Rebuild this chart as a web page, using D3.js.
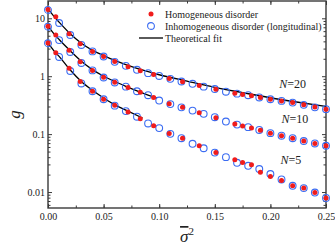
<!DOCTYPE html>
<html>
<head>
<meta charset="utf-8">
<script src="https://cdn.jsdelivr.net/npm/d3@7"></script>
<style>
  body { margin: 0; background: #fff; }
  svg text { font-family: "Liberation Serif", "Times New Roman", serif; }
</style>
</head>
<body>
<div id="chart"></div>
<script>
// sigma^2 positions of the two kinds of samples
const blueX = [0, 0.01, 0.02, 0.03, 0.04, 0.05, 0.06, 0.07, 0.08, 0.09, 0.10, 0.11, 0.12,
  0.13, 0.14, 0.15, 0.16, 0.17, 0.18, 0.19, 0.20, 0.21, 0.22, 0.23, 0.24, 0.25];
const redX = [0, 0.007, 0.019, 0.029, 0.04, 0.05, 0.06, 0.072, 0.083, 0.095, 0.109, 0.121,
  0.136, 0.151, 0.168, 0.175, 0.183, 0.191, 0.2, 0.21, 0.22, 0.23, 0.24, 0.25];

// inhomogeneous disorder (open blue circles)
const blueN20 = [13.9, 8.3, 5.15, 3.47, 2.68, 2.19, 1.77, 1.51, 1.29, 1.13, 1.01, 0.90, 0.81,
  0.74, 0.66, 0.60, 0.54, 0.50, 0.47, 0.43, 0.40, 0.375, 0.35, 0.32, 0.29, 0.27];
const blueN10 = [7.16, 4.2, 2.62, 1.69, 1.26, 0.95, 0.78, 0.66, 0.55, 0.47, 0.38, 0.33, 0.29,
  0.255, 0.224, 0.196, 0.165, 0.146, 0.132, 0.118, 0.104, 0.094, 0.085, 0.076, 0.069, 0.063];
const blueN5 = [3.7, 2.15, 1.23, 0.75, 0.55, 0.40, 0.31, 0.25, 0.20, 0.153, 0.127, 0.101, 0.085,
  0.068, 0.057, 0.048, 0.040, 0.032, 0.0284, 0.025, 0.0205, 0.0165, 0.0128, 0.0117, 0.0098, 0.0079];

// homogeneous disorder (red dots)
const redN20 = [14.2, 10.6, 5.4, 3.65, 2.66, 2.2, 1.8, 1.45, 1.24, 1.07, 0.91, 0.80, 0.69, 0.595,
  0.51, 0.485, 0.46, 0.43, 0.40, 0.375, 0.35, 0.32, 0.295, 0.27];
const redN10 = [7.3, 5.15, 2.8, 1.78, 1.25, 0.96, 0.79, 0.64, 0.53, 0.43, 0.335, 0.29, 0.235, 0.192,
  0.15, 0.138, 0.128, 0.117, 0.104, 0.094, 0.085, 0.076, 0.069, 0.063];
const redN5 = [3.75, 2.55, 1.37, 0.81, 0.55, 0.40, 0.315, 0.24, 0.185, 0.14, 0.103, 0.085, 0.063, 0.048,
  0.036, 0.0324, 0.0295, 0.022, 0.0186, 0.0158, 0.0128, 0.0117, 0.0098, 0.0079];

// theoretical fit curves
const fitX20 = [0, 0.005, 0.01, 0.02, 0.03, 0.04, 0.05, 0.06, 0.08, 0.10, 0.125, 0.15, 0.175, 0.20, 0.225, 0.25];
const fitN20 = [14.5, 11.0, 8.6, 5.4, 3.7, 2.8, 2.27, 1.87, 1.36, 1.06, 0.82, 0.64, 0.52, 0.425, 0.355, 0.30];
const fitX10 = [0, 0.005, 0.01, 0.02, 0.03, 0.04, 0.05, 0.06, 0.07, 0.08, 0.09, 0.098];
const fitN10 = [7.3, 5.5, 4.3, 2.75, 1.82, 1.3, 1.0, 0.81, 0.67, 0.56, 0.47, 0.42];
const fitX5 = [0, 0.005, 0.01, 0.02, 0.03, 0.04, 0.05, 0.06, 0.07, 0.085];
const fitN5 = [3.75, 2.8, 2.2, 1.28, 0.81, 0.57, 0.42, 0.32, 0.26, 0.19];

const xTicks = [0, 0.05, 0.10, 0.15, 0.20, 0.25];
const yTicks = [0.01, 0.1, 1, 10];
const curveLabels = [
  { n: "20", x: 0.208, g: 0.62 },
  { n: "10", x: 0.210, g: 0.156 },
  { n: "5", x: 0.209, g: 0.031 }
];
const legendItems = ["Homogeneous disorder", "Inhomogeneous disorder (longitudinal)", "Theoretical fit"];

const W = 335, H = 252;
const margin = { top: 1, right: 9, bottom: 44, left: 48 };
const width = W - margin.left - margin.right;
const height = H - margin.top - margin.bottom;

const red = "#f01c1c", blue = "#3b6cf2", axisColor = "#3a3a3a";
const serif = "'Liberation Serif', 'Times New Roman', serif";

const svg = d3.select("#chart").append("svg")
  .attr("width", W).attr("height", H)
  .attr("font-family", serif);
const g = svg.append("g")
  .attr("transform", "translate(" + margin.left + "," + margin.top + ")");

const xScale = d3.scaleLinear().domain([0, 0.25]).range([0, width]);
const yScale = d3.scaleLog().domain([0.0053, 19.9]).range([height, 0]);

// minor ticks
const xMinor = d3.range(0, 0.2501, 0.025);
const yMinor = [];
[0.001, 0.01, 0.1, 1, 10].forEach(d => {
  for (let k = 2; k <= 9; k++) {
    const v = d * k;
    if (v > 0.0053 && v < 19.9) yMinor.push(v);
  }
});

function styleAxis(sel) {
  sel.select(".domain").remove();
  sel.selectAll("line").attr("stroke", axisColor).attr("stroke-width", 1);
  sel.selectAll("text").attr("fill", "#222").attr("font-size", "10px")
    .attr("font-family", serif);
}

// bottom and top
g.append("g").attr("transform", "translate(0," + height + ")")
  .call(d3.axisBottom(xScale).tickValues(xTicks).tickSize(-4).tickPadding(5).tickFormat(d3.format(".2f")))
  .call(styleAxis);
g.append("g").attr("transform", "translate(0," + height + ")")
  .call(d3.axisBottom(xScale).tickValues(xMinor).tickSize(-2.5).tickFormat(""))
  .call(styleAxis);
g.append("g")
  .call(d3.axisTop(xScale).tickValues(xTicks).tickSize(-4).tickFormat(""))
  .call(styleAxis);
g.append("g")
  .call(d3.axisTop(xScale).tickValues(xMinor).tickSize(-2.5).tickFormat(""))
  .call(styleAxis);

// left and right
g.append("g")
  .call(d3.axisLeft(yScale).tickValues(yTicks).tickSize(-4).tickPadding(3).tickFormat(d => d >= 1 ? d3.format("d")(d) : String(d)))
  .call(styleAxis);
g.append("g")
  .call(d3.axisLeft(yScale).tickValues(yMinor).tickSize(-2.5).tickFormat(""))
  .call(styleAxis);
g.append("g").attr("transform", "translate(" + width + ",0)")
  .call(d3.axisRight(yScale).tickValues(yTicks).tickSize(-4).tickFormat(""))
  .call(styleAxis);
g.append("g").attr("transform", "translate(" + width + ",0)")
  .call(d3.axisRight(yScale).tickValues(yMinor).tickSize(-2.5).tickFormat(""))
  .call(styleAxis);

// frame
g.append("rect")
  .attr("width", width).attr("height", height)
  .attr("fill", "none").attr("stroke", axisColor).attr("stroke-width", 1.4);

// fit lines
const line = d3.line()
  .x(d => xScale(d[0]))
  .y(d => yScale(d[1]))
  .curve(d3.curveMonotoneX);
[[fitX20, fitN20], [fitX10, fitN10], [fitX5, fitN5]].forEach(([xs, ys]) => {
  g.append("path")
    .datum(xs.map((x, i) => [x, ys[i]]))
    .attr("d", line)
    .attr("fill", "none")
    .attr("stroke", "#000")
    .attr("stroke-width", 1.3);
});

// open blue circles
[blueN20, blueN10, blueN5].forEach(ys => {
  g.append("g").selectAll("circle")
    .data(blueX.map((x, i) => [x, ys[i]]))
    .enter().append("circle")
    .attr("cx", d => xScale(d[0]))
    .attr("cy", d => yScale(d[1]))
    .attr("r", 3.4)
    .attr("fill", "none")
    .attr("stroke", blue)
    .attr("stroke-width", 1.1);
});

// red dots
[redN20, redN10, redN5].forEach(ys => {
  g.append("g").selectAll("circle")
    .data(redX.map((x, i) => [x, ys[i]]))
    .enter().append("circle")
    .attr("cx", d => xScale(d[0]))
    .attr("cy", d => yScale(d[1]))
    .attr("r", 2.5)
    .attr("fill", red);
});

// N labels
curveLabels.forEach(c => {
  const t = g.append("text")
    .attr("x", xScale(c.x))
    .attr("y", yScale(c.g))
    .attr("font-size", "12px")
    .attr("fill", "#222");
  t.append("tspan").attr("font-style", "italic").text("N");
  t.append("tspan").text("=" + c.n);
});

// legend
const legend = svg.append("g").attr("transform", "translate(151,14)");
legend.append("circle").attr("cx", 0).attr("cy", 0).attr("r", 2.5).attr("fill", red);
legend.append("circle").attr("cx", 0).attr("cy", 12).attr("r", 3.4)
  .attr("fill", "none").attr("stroke", blue).attr("stroke-width", 1.1);
legend.append("line").attr("x1", -12).attr("x2", 12).attr("y1", 24).attr("y2", 24)
  .attr("stroke", "#000").attr("stroke-width", 1.3);
legend.selectAll("text.leg")
  .data(legendItems)
  .enter().append("text")
  .attr("class", "leg")
  .attr("x", 14)
  .attr("y", (d, i) => i * 12)
  .attr("dy", "0.35em")
  .attr("font-size", "10px")
  .attr("fill", "#222")
  .text(d => d);

// axis titles
svg.append("text")
  .attr("transform", "translate(20," + (margin.top + height / 2 + 10) + ") rotate(-90)")
  .attr("text-anchor", "middle")
  .attr("font-size", "17px")
  .attr("font-style", "italic")
  .attr("fill", "#222")
  .text("g");

const xt = svg.append("text")
  .attr("x", margin.left + width / 2)
  .attr("y", 242)
  .attr("text-anchor", "middle")
  .attr("font-size", "17px")
  .attr("fill", "#222");
xt.append("tspan").attr("font-style", "italic")
  .style("text-decoration", "overline").text("σ");
xt.append("tspan").attr("font-size", "11px").attr("dy", "-7").text("2");
</script>
</body>
</html>
